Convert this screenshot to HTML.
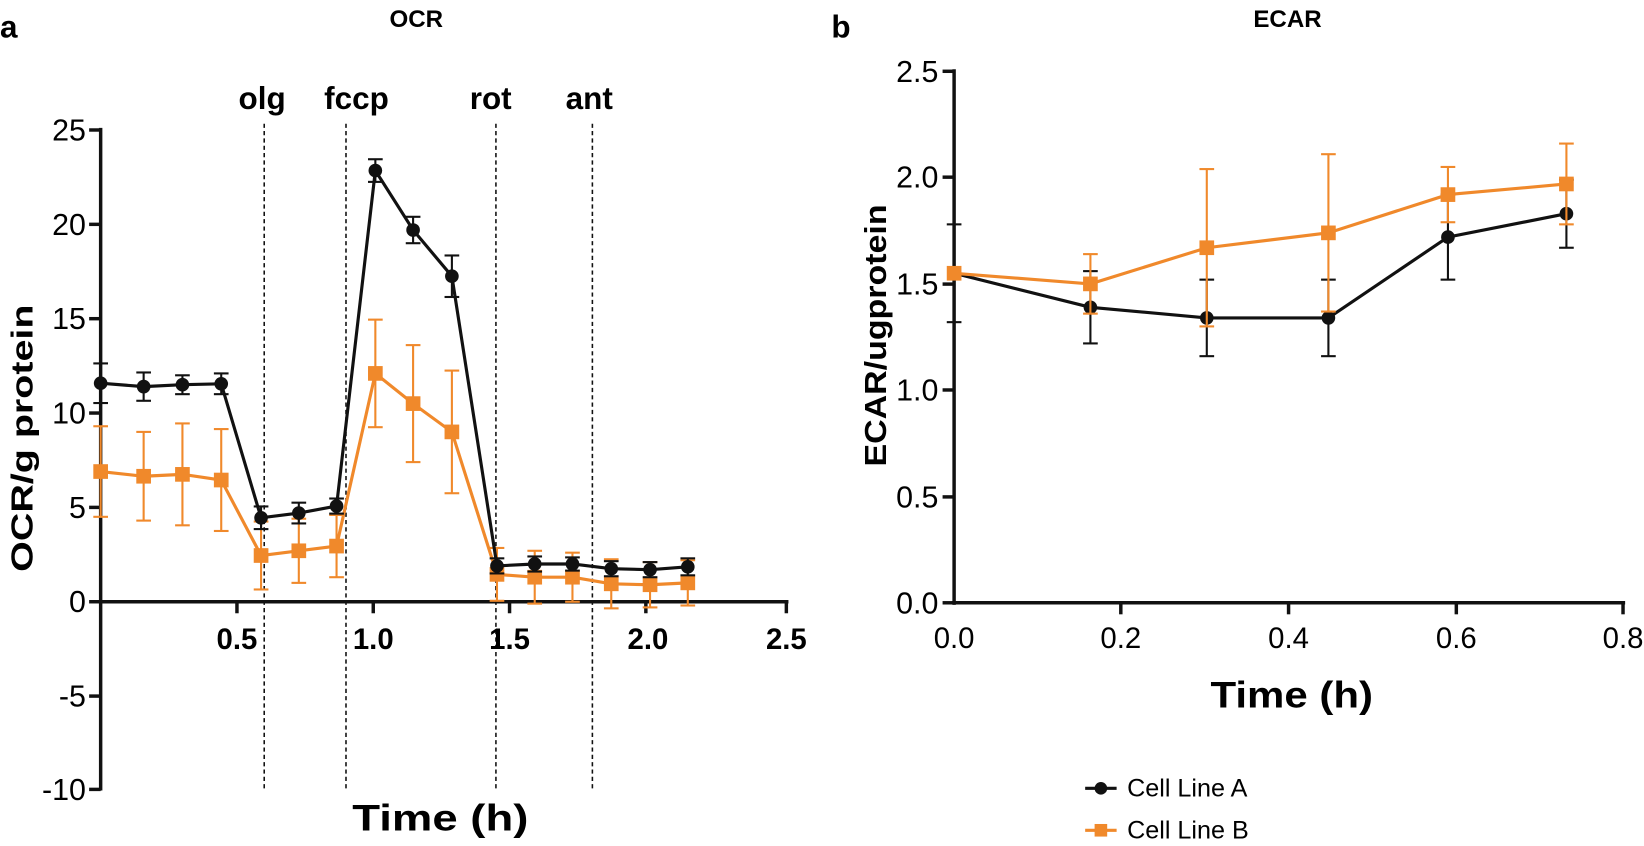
<!DOCTYPE html>
<html><head><style>body{margin:0;background:#fff}svg{display:block}text{font-family:"Liberation Sans",Arial,sans-serif}</style></head>
<body>
<svg width="1644" height="846" viewBox="0 0 1568 807" preserveAspectRatio="none" xmlns="http://www.w3.org/2000/svg">
<text x="0" y="36" font-size="30" font-weight="bold">a</text>
<text x="793" y="36" font-size="30" font-weight="bold">b</text>
<text x="397" y="26" font-size="23" font-weight="bold" text-anchor="middle">OCR</text>
<text x="1228" y="26" font-size="23" font-weight="bold" text-anchor="middle">ECAR</text>

<!-- Left chart -->
<g stroke="#111" stroke-width="1.5" stroke-dasharray="4,3">
<line x1="252" y1="118" x2="252" y2="753"/><line x1="330" y1="118" x2="330" y2="753"/>
<line x1="473" y1="118" x2="473" y2="753"/><line x1="565" y1="118" x2="565" y2="753"/>
</g>
<g font-size="30" font-weight="bold" text-anchor="middle">
<text x="250" y="104">olg</text><text x="340" y="104">fccp</text><text x="468" y="104">rot</text><text x="562" y="104">ant</text>
</g>
<g stroke="#111" stroke-width="3.3">
<line x1="96" y1="122" x2="96" y2="754"/><line x1="94" y1="574" x2="752" y2="574"/>
<line x1="85" y1="124" x2="96" y2="124"/><line x1="85" y1="214" x2="96" y2="214"/><line x1="85" y1="304" x2="96" y2="304"/>
<line x1="85" y1="394" x2="96" y2="394"/><line x1="85" y1="484" x2="96" y2="484"/><line x1="85" y1="574" x2="96" y2="574"/>
<line x1="85" y1="664" x2="96" y2="664"/><line x1="85" y1="753" x2="96" y2="753"/>
<line x1="226" y1="574" x2="226" y2="585"/><line x1="356" y1="574" x2="356" y2="585"/><line x1="486" y1="574" x2="486" y2="585"/><line x1="616" y1="574" x2="616" y2="585"/><line x1="750" y1="574" x2="750" y2="585"/>
</g>
<g font-size="29" text-anchor="end">
<text x="82" y="134">25</text><text x="82" y="224">20</text><text x="82" y="314">15</text><text x="82" y="404">10</text>
<text x="82" y="494">5</text><text x="82" y="584">0</text><text x="82" y="674">-5</text><text x="82" y="763">-10</text>
</g>
<g font-size="28" font-weight="bold" text-anchor="middle">
<text x="226" y="619">0.5</text><text x="356" y="619">1.0</text><text x="486" y="619">1.5</text><text x="618" y="619">2.0</text><text x="750" y="619">2.5</text>
</g>
<text x="420" y="792" font-size="35" font-weight="bold" text-anchor="middle" textLength="168" lengthAdjust="spacingAndGlyphs">Time (h)</text>
<text transform="translate(31,418) rotate(-90)" font-size="29" font-weight="bold" text-anchor="middle" textLength="255" lengthAdjust="spacingAndGlyphs">OCR/g protein</text>
<g id="ocr"></g>

<!-- Right chart -->
<g stroke="#111" stroke-width="3.3">
<line x1="910" y1="66" x2="910" y2="577"/><line x1="908" y1="575" x2="1550" y2="575"/>
<line x1="899" y1="68" x2="910" y2="68"/><line x1="899" y1="169" x2="910" y2="169"/><line x1="899" y1="271" x2="910" y2="271"/>
<line x1="899" y1="372" x2="910" y2="372"/><line x1="899" y1="474" x2="910" y2="474"/><line x1="899" y1="575" x2="910" y2="575"/>
<line x1="1069" y1="575" x2="1069" y2="586"/><line x1="1229" y1="575" x2="1229" y2="586"/><line x1="1389" y1="575" x2="1389" y2="586"/><line x1="1548" y1="575" x2="1548" y2="586"/>
</g>
<g font-size="29" text-anchor="end">
<text x="895" y="78">2.5</text><text x="895" y="179">2.0</text><text x="895" y="281">1.5</text><text x="895" y="382">1.0</text><text x="895" y="484">0.5</text><text x="895" y="585">0.0</text>
</g>
<g font-size="28" text-anchor="middle">
<text x="910" y="618">0.0</text><text x="1069" y="618">0.2</text><text x="1229" y="618">0.4</text><text x="1389" y="618">0.6</text><text x="1548" y="618">0.8</text>
</g>
<text x="1232" y="675" font-size="35" font-weight="bold" text-anchor="middle" textLength="155" lengthAdjust="spacingAndGlyphs">Time (h)</text>
<text transform="translate(845,320) rotate(-90)" font-size="29" font-weight="bold" text-anchor="middle" textLength="250" lengthAdjust="spacingAndGlyphs">ECAR/ugprotein</text>
<g id="ecar"></g>

<!-- legend -->
<line x1="1035" y1="752" x2="1065" y2="752" stroke="#111" stroke-width="3"/><circle cx="1050" cy="752" r="6" fill="#111"/>
<text x="1075" y="760" font-size="24">Cell Line A</text>
<line x1="1035" y1="792" x2="1065" y2="792" stroke="#f0892b" stroke-width="3"/><rect x="1044" y="786" width="12" height="12" fill="#f0892b"/>
<text x="1075" y="800" font-size="24">Cell Line B</text>
</svg>
<script>
var NS="http://www.w3.org/2000/svg";
function el(p,t,a){var e=document.createElementNS(NS,t);for(var k in a)e.setAttribute(k,a[k]);p.appendChild(e);return e;}
function series(g,xs,ys,es,col,mark,fx,fy,sw,cap){
 var pts=xs.map(function(x,i){return [fx(x),fy(ys[i])];});
 pts.forEach(function(p,i){if(!es[i])return;var a=fy(ys[i]+es[i]),b=fy(ys[i]-es[i]);
  el(g,"line",{x1:p[0],y1:a,x2:p[0],y2:b,stroke:col,"stroke-width":2});
  el(g,"line",{x1:p[0]-cap,y1:a,x2:p[0]+cap,y2:a,stroke:col,"stroke-width":2});
  el(g,"line",{x1:p[0]-cap,y1:b,x2:p[0]+cap,y2:b,stroke:col,"stroke-width":2});});
 el(g,"polyline",{points:pts.map(function(p){return p.join(",")}).join(" "),fill:"none",stroke:col,"stroke-width":sw});
 pts.forEach(function(p){if(mark=="c")el(g,"circle",{cx:p[0],cy:p[1],r:6.5,fill:col});else el(g,"rect",{x:p[0]-7,y:p[1]-7,width:14,height:14,fill:col});});
}
var g1=document.getElementById("ocr");
var ox=[96,137,174,211,249,285,321,358,394,431,474,510,546,583,620,656];
var fx1=function(x){return x},fy1=function(v){return 574-18*v};
series(g1,ox,[6.9,6.65,6.75,6.45,2.45,2.7,2.95,12.1,10.5,9.0,1.45,1.3,1.3,0.95,0.9,1.0],[2.4,2.35,2.7,2.7,1.8,1.7,1.65,2.85,3.1,3.25,1.4,1.4,1.3,1.3,1.2,1.2],"#f0892b","s",fx1,fy1,3,7);
series(g1,ox,[11.58,11.4,11.5,11.55,4.45,4.7,5.07,22.85,19.7,17.25,1.9,2.0,2.0,1.75,1.7,1.85],[1.05,0.75,0.5,0.55,0.6,0.55,0.4,0.6,0.7,1.1,0.4,0.4,0.35,0.4,0.4,0.45],"#111","c",fx1,fy1,3,7);
var g2=document.getElementById("ecar");
var ex=[910,1040,1151,1267,1381,1494];
var fy2=function(v){return 575-202.8*v};
series(g2,ex,[1.55,1.39,1.34,1.34,1.72,1.83],[0.23,0.17,0.18,0.18,0.2,0.16],"#111","c",fx1,fy2,3,7);
series(g2,ex,[1.55,1.5,1.67,1.74,1.92,1.97],[0,0.14,0.37,0.37,0.13,0.19],"#f0892b","s",fx1,fy2,3,7);
</script>
</body></html>
